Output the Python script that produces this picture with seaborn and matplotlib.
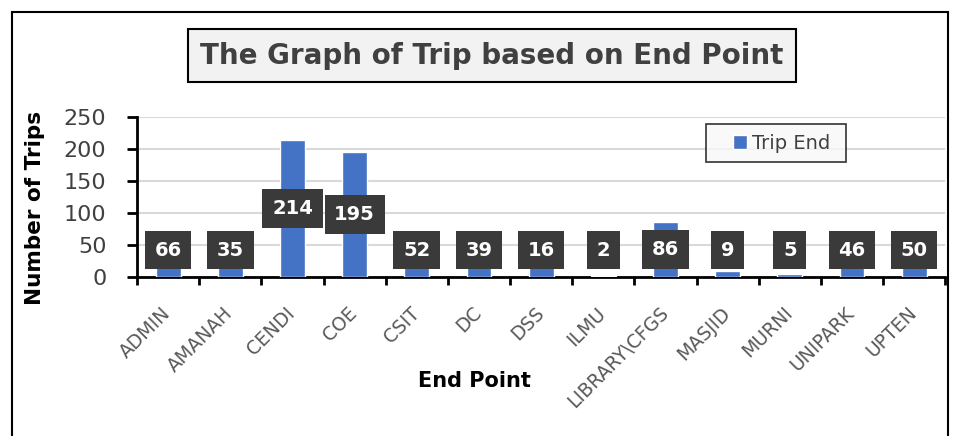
import matplotlib
matplotlib.use("Agg")
import matplotlib.pyplot as plt
import matplotlib.transforms as mtransforms
import numpy as np
import pandas as pd
import seaborn as sns
from matplotlib.legend_handler import HandlerPatch
from matplotlib.patches import Rectangle
from matplotlib.ticker import FixedLocator

# ---------------------------------------------------------------------------
# Data
# ---------------------------------------------------------------------------
END_POINTS = ["ADMIN", "AMANAH", "CENDI", "COE", "CSIT", "DC", "DSS", "ILMU",
              "LIBRARY\\CFGS", "MASJID", "MURNI", "UNIPARK", "UPTEN"]
TRIP_END = [66, 35, 214, 195, 52, 39, 16, 2, 86, 9, 5, 46, 50]
Y_TICKS = [0, 50, 100, 150, 200, 250]

BAR_COLOR = "#4472C4"
TEXT_GRAY = "#404040"

sns.set_theme(style="white")
plt.rcParams["font.family"] = ["DejaVu Sans"]

df = pd.DataFrame({"end_point": END_POINTS, "trips": TRIP_END})

fig = plt.figure(figsize=(9.6, 4.36), dpi=100)
ax = fig.add_axes([0.1427, 0.3647, 0.842, 0.367])

sns.barplot(data=df, x="end_point", y="trips", color=BAR_COLOR,
            width=0.4, saturation=1, ax=ax, zorder=3)

ax.set_xlim(-0.5, len(END_POINTS) - 0.5)
ax.set_ylim(0, 250)
ax.set_yticks(Y_TICKS)
ax.yaxis.grid(True, color="#d9d9d9", linewidth=1.5, zorder=0)
ax.set_axisbelow(True)

for side in ["top", "right"]:
    ax.spines[side].set_visible(False)
for side in ["left", "bottom"]:
    ax.spines[side].set_color("black")
    ax.spines[side].set_linewidth(2)

ax.tick_params(axis="y", labelsize=16, labelcolor=TEXT_GRAY, left=True,
               length=7, width=2, color="black", pad=15)
ax.set_xticks(range(len(END_POINTS)))
ax.set_xticklabels(END_POINTS, rotation=45, ha="right", va="top",
                   rotation_mode="anchor", fontsize=13.5, color="#595959")
ax.tick_params(axis="x", which="major", length=0, pad=19)
# nudge the slanted labels a little to the left so they end under the bar
shift = mtransforms.ScaledTranslation(-7 / 100, 0, fig.dpi_scale_trans)
for lbl in ax.get_xticklabels():
    lbl.set_transform(lbl.get_transform() + shift)
ax.xaxis.set_minor_locator(FixedLocator(np.arange(-0.5, len(END_POINTS), 1.0)))
ax.tick_params(axis="x", which="minor", bottom=True, length=6, width=2,
               color="black")

ax.set_ylabel("Number of Trips", fontsize=15.5, fontweight="bold", color="black")
ax.yaxis.set_label_coords(-0.114, 0.43)
ax.set_xlabel("End Point", fontsize=15, fontweight="bold", color="black")
ax.xaxis.set_label_coords(0.418, -0.59)

# Data labels, centred on the bar but kept clear of the axis
for i, v in enumerate(TRIP_END):
    ax.text(i, max(v / 2, 42), str(v), ha="center", va="center",
            fontsize=14, fontweight="bold", color="white", zorder=5,
            bbox=dict(boxstyle="square,pad=0.5", facecolor="#3a3a3a",
                      edgecolor="none"))


# Legend: square marker sitting at the right end of a wider handle box
def square_right(legend, orig_handle, xdescent, ydescent, width, height, fontsize):
    return Rectangle((-xdescent + width - height, -ydescent), height, height)


handle = Rectangle((0, 0), 1, 1, facecolor=BAR_COLOR)
leg = ax.legend([handle], ["Trip End "], loc="upper left",
                bbox_to_anchor=(0.704, 0.956), fontsize=14,
                frameon=True, fancybox=False, handlelength=1.6,
                handleheight=0.75, handletextpad=0.25, borderpad=0.5,
                borderaxespad=0,
                handler_map={Rectangle: HandlerPatch(patch_func=square_right)})
leg.get_frame().set_edgecolor("black")
leg.get_frame().set_linewidth(1.2)
leg.get_frame().set_facecolor("#f8f8f8")
for t in leg.get_texts():
    t.set_color(TEXT_GRAY)

# Title in a boxed frame
fig.text(0.5125, 0.8716, "The Graph of Trip based on End Point",
         ha="center", va="center", fontsize=20, fontweight="bold",
         color=TEXT_GRAY,
         bbox=dict(boxstyle="square,pad=0.45", facecolor="#f2f2f2",
                   edgecolor="black", linewidth=1.5))

# Outer chart border
fig.patches.append(Rectangle((12 / 960, -0.1), (948 - 12) / 960, 1.1 - 12 / 436,
                             transform=fig.transFigure, fill=False,
                             edgecolor="black", linewidth=1.5))

fig.savefig("out.png", dpi=100)
